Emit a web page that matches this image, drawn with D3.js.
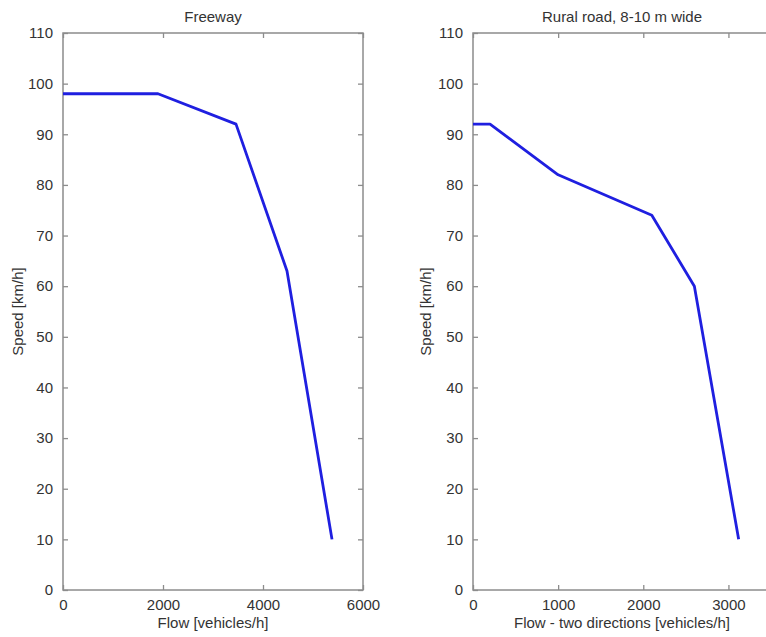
<!DOCTYPE html>
<html><head><meta charset="utf-8">
<script src="https://cdn.jsdelivr.net/npm/d3@7"></script>
<style>
html,body{margin:0;padding:0;background:#fff;overflow:hidden;}
text{font-family:"Liberation Sans",Arial,sans-serif;fill:#333;}
</style></head>
<body>
<svg id="chart" width="766" height="637"></svg>
<script>
// Data
const freewayFlow  = [0, 1900, 3460, 4480, 5380];
const freewaySpeed = [98, 98, 92, 63, 10];
const ruralFlow    = [0, 200, 1000, 2100, 2600, 3120];
const ruralSpeed   = [92, 92, 82, 74, 60, 10];
const speedTicks   = [0,10,20,30,40,50,60,70,80,90,100,110];
const freewayTicks = [0,2000,4000,6000];
const ruralTicks   = [0,1000,2000,3000];
const titles  = ["Freeway", "Rural road, 8-10 m wide"];
const xLabels = ["Flow [vehicles/h]", "Flow - two directions [vehicles/h]"];
const yLabel  = "Speed [km/h]";

const svg = d3.select("#chart");
const plotTop = 33, plotBottom = 590;

function panel(cfg){
  const g = svg.append("g");
  const x = d3.scaleLinear().domain(cfg.xDomain).range([cfg.left, cfg.right]);
  const y = d3.scaleLinear().domain([0,110]).range([plotBottom, plotTop]);
  const axisColor = "#8c8c8c";
  const tl = 5;

  g.append("rect").attr("x", cfg.left).attr("y", plotTop)
    .attr("width", cfg.right - cfg.left).attr("height", plotBottom - plotTop)
    .attr("fill","none").attr("stroke", axisColor).attr("stroke-width",1.5);

  const xb = g.append("g").attr("transform",`translate(0,${plotBottom})`)
    .call(d3.axisBottom(x).tickValues(cfg.xTicks).tickSize(-tl).tickPadding(9).tickFormat(d3.format("d")));
  const xt = g.append("g").attr("transform",`translate(0,${plotTop})`)
    .call(d3.axisTop(x).tickValues(cfg.xTicks).tickSize(-tl).tickFormat(""));
  const yl = g.append("g").attr("transform",`translate(${cfg.left},0)`)
    .call(d3.axisLeft(y).tickValues(speedTicks).tickSize(-tl).tickPadding(10).tickFormat(d3.format("d")));
  const yr = g.append("g").attr("transform",`translate(${cfg.right},0)`)
    .call(d3.axisRight(y).tickValues(speedTicks).tickSize(-tl).tickFormat(""));

  [xb,xt,yl,yr].forEach(a=>{
    a.select(".domain").remove();
    a.selectAll(".tick line").attr("stroke", axisColor).attr("stroke-width",1.3);
    a.selectAll(".tick text").attr("font-size","15px").attr("fill","#333")
      .style("font-family","'Liberation Sans',Arial,sans-serif");
  });

  const pts = cfg.xs.map((v,i)=>[v, cfg.ys[i]]);
  g.append("path").datum(pts)
    .attr("d", d3.line().x(d=>x(d[0])).y(d=>y(d[1])))
    .attr("fill","none").attr("stroke","#1f1fe0").attr("stroke-width",2.8)
    .attr("stroke-linejoin","round");

  g.append("text").attr("x",(cfg.left+cfg.right)/2).attr("y",22)
    .attr("text-anchor","middle").attr("font-size","15px").text(cfg.title);
  g.append("text").attr("x",(cfg.left+cfg.right)/2).attr("y",628)
    .attr("text-anchor","middle").attr("font-size","15px").text(cfg.xLabel);
  g.append("text").attr("transform",`translate(${cfg.yLabelX},${(plotTop+plotBottom)/2}) rotate(-90)`)
    .attr("text-anchor","middle").attr("font-size","15px").text(yLabel);
}

panel({left:63, right:363, xDomain:[0,6000], xTicks:freewayTicks,
  xs:freewayFlow, ys:freewaySpeed, title:titles[0], xLabel:xLabels[0], yLabelX:23});
panel({left:473, right:771, xDomain:[0,3500], xTicks:ruralTicks,
  xs:ruralFlow, ys:ruralSpeed, title:titles[1], xLabel:xLabels[1], yLabelX:431});
</script>
</body></html>
